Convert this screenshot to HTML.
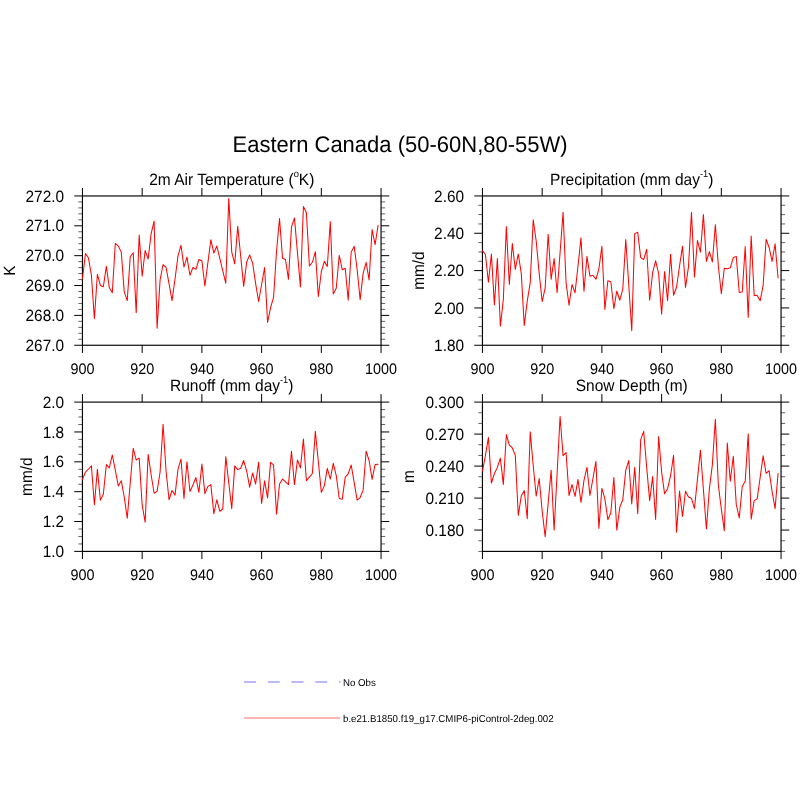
<!DOCTYPE html><html><head><meta charset="utf-8"><title>Eastern Canada</title>
<style>html,body{margin:0;padding:0;background:#fff}svg{display:block}text{font-family:"Liberation Sans",Arial,Helvetica,sans-serif;fill:#000;text-rendering:geometricPrecision}</style></head><body>
<svg width="800" height="800" viewBox="0 0 800 800">
<rect width="800" height="800" fill="#fff"/>
<text transform="translate(400.10,151.75) scale(1,1.03)" font-size="22" text-anchor="middle">Eastern Canada (50-60N,80-55W)</text>
<g stroke="#000" fill="none">
<rect x="82.45" y="195.95" width="298.6" height="149.30" stroke-width="1.15"/>
<path d="M82.45 195.95v-8.0M82.45 345.25v7.7M142.17 195.95v-8.0M142.17 345.25v7.7M201.89 195.95v-8.0M201.89 345.25v7.7M261.61 195.95v-8.0M261.61 345.25v7.7M321.33 195.95v-8.0M321.33 345.25v7.7M381.05 195.95v-8.0M381.05 345.25v7.7M82.45 345.25h-8.2M381.05 345.25h8.2M82.45 315.39h-8.2M381.05 315.39h8.2M82.45 285.53h-8.2M381.05 285.53h8.2M82.45 255.67h-8.2M381.05 255.67h8.2M82.45 225.81h-8.2M381.05 225.81h8.2M82.45 195.95h-8.2M381.05 195.95h8.2" stroke-width="1"/>
<path d="M82.45 339.28h-4.1M381.05 339.28h4.1M82.45 333.31h-4.1M381.05 333.31h4.1M82.45 327.33h-4.1M381.05 327.33h4.1M82.45 321.36h-4.1M381.05 321.36h4.1M82.45 309.42h-4.1M381.05 309.42h4.1M82.45 303.45h-4.1M381.05 303.45h4.1M82.45 297.47h-4.1M381.05 297.47h4.1M82.45 291.50h-4.1M381.05 291.50h4.1M82.45 279.56h-4.1M381.05 279.56h4.1M82.45 273.59h-4.1M381.05 273.59h4.1M82.45 267.61h-4.1M381.05 267.61h4.1M82.45 261.64h-4.1M381.05 261.64h4.1M82.45 249.70h-4.1M381.05 249.70h4.1M82.45 243.73h-4.1M381.05 243.73h4.1M82.45 237.75h-4.1M381.05 237.75h4.1M82.45 231.78h-4.1M381.05 231.78h4.1M82.45 219.84h-4.1M381.05 219.84h4.1M82.45 213.87h-4.1M381.05 213.87h4.1M82.45 207.89h-4.1M381.05 207.89h4.1M82.45 201.92h-4.1M381.05 201.92h4.1" stroke-width="0.62"/>
</g>
<text transform="translate(64.05,350.85) scale(1,1.06)" font-size="15.4" text-anchor="end">267.0</text>
<text transform="translate(64.05,320.99) scale(1,1.06)" font-size="15.4" text-anchor="end">268.0</text>
<text transform="translate(64.05,291.13) scale(1,1.06)" font-size="15.4" text-anchor="end">269.0</text>
<text transform="translate(64.05,261.27) scale(1,1.06)" font-size="15.4" text-anchor="end">270.0</text>
<text transform="translate(64.05,231.41) scale(1,1.06)" font-size="15.4" text-anchor="end">271.0</text>
<text transform="translate(64.05,201.55) scale(1,1.06)" font-size="15.4" text-anchor="end">272.0</text>
<text transform="translate(82.45,374.25) scale(1,1.06)" font-size="14.4" text-anchor="middle">900</text>
<text transform="translate(142.17,374.25) scale(1,1.06)" font-size="14.4" text-anchor="middle">920</text>
<text transform="translate(201.89,374.25) scale(1,1.06)" font-size="14.4" text-anchor="middle">940</text>
<text transform="translate(261.61,374.25) scale(1,1.06)" font-size="14.4" text-anchor="middle">960</text>
<text transform="translate(321.33,374.25) scale(1,1.06)" font-size="14.4" text-anchor="middle">980</text>
<text transform="translate(381.05,374.25) scale(1,1.06)" font-size="14.4" text-anchor="middle">1000</text>
<text transform="translate(231.75,185.20) scale(1,1.06)" font-size="15.5" text-anchor="middle">2m Air Temperature (<tspan dy="-7.8" font-size="9.3">o</tspan><tspan dy="7.8">K)</tspan></text>
<polyline points="82.45,278.95 85.44,253.61 88.42,257.68 91.41,275.25 94.39,318.73 97.38,274.32 100.37,285.43 103.35,286.72 106.34,266.37 109.32,287.83 112.31,292.82 115.30,243.43 118.28,246.02 121.27,252.12 124.25,291.90 127.24,300.60 130.23,256.75 133.21,252.68 136.20,312.62 139.18,234.92 142.17,276.18 145.16,250.46 148.14,258.97 151.13,233.62 154.11,221.23 157.10,328.35 160.09,279.88 163.07,264.52 166.06,267.48 169.04,283.57 172.03,300.60 175.02,278.95 178.00,255.82 180.99,245.28 183.97,266.93 186.96,257.12 189.95,275.25 192.93,267.48 195.92,269.33 198.90,259.52 201.89,260.82 204.88,285.98 207.86,262.86 210.85,239.73 213.83,253.05 216.82,246.02 219.81,258.42 222.79,270.81 225.78,283.20 228.76,198.47 231.75,252.12 234.74,263.78 237.72,226.22 240.71,256.38 243.69,286.35 246.68,261.93 249.67,254.90 252.65,263.23 255.64,283.57 258.62,301.52 261.61,284.50 264.60,267.48 267.58,322.43 270.57,307.62 273.55,297.45 276.54,251.20 279.53,218.46 282.51,258.23 285.50,259.52 288.48,279.32 291.47,227.15 294.46,217.90 297.44,252.50 300.43,286.90 303.41,206.43 306.40,212.72 309.39,266.00 312.37,262.30 315.36,251.75 318.34,296.52 321.33,271.55 324.32,261.38 327.30,266.37 330.29,221.60 333.27,294.12 336.26,288.20 339.25,255.27 342.23,269.70 345.22,268.22 348.20,300.23 351.19,252.12 354.18,246.20 357.16,269.70 360.15,299.67 363.13,273.40 366.12,262.30 369.11,279.88 372.09,229.56 375.08,244.72 378.06,225.30" fill="none" stroke="#ff0000" stroke-width="1.02" stroke-linejoin="round" stroke-linecap="round"/>
<g stroke="#000" fill="none">
<rect x="482.45" y="195.95" width="298.6" height="149.30" stroke-width="1.15"/>
<path d="M482.45 195.95v-8.0M482.45 345.25v7.7M542.17 195.95v-8.0M542.17 345.25v7.7M601.89 195.95v-8.0M601.89 345.25v7.7M661.61 195.95v-8.0M661.61 345.25v7.7M721.33 195.95v-8.0M721.33 345.25v7.7M781.05 195.95v-8.0M781.05 345.25v7.7M482.45 345.25h-8.2M781.05 345.25h8.2M482.45 307.93h-8.2M781.05 307.93h8.2M482.45 270.60h-8.2M781.05 270.60h8.2M482.45 233.27h-8.2M781.05 233.27h8.2M482.45 195.95h-8.2M781.05 195.95h8.2" stroke-width="1"/>
<path d="M482.45 335.92h-4.1M781.05 335.92h4.1M482.45 326.59h-4.1M781.05 326.59h4.1M482.45 317.26h-4.1M781.05 317.26h4.1M482.45 298.59h-4.1M781.05 298.59h4.1M482.45 289.26h-4.1M781.05 289.26h4.1M482.45 279.93h-4.1M781.05 279.93h4.1M482.45 261.27h-4.1M781.05 261.27h4.1M482.45 251.94h-4.1M781.05 251.94h4.1M482.45 242.61h-4.1M781.05 242.61h4.1M482.45 223.94h-4.1M781.05 223.94h4.1M482.45 214.61h-4.1M781.05 214.61h4.1M482.45 205.28h-4.1M781.05 205.28h4.1" stroke-width="0.62"/>
</g>
<text transform="translate(464.05,350.85) scale(1,1.06)" font-size="15.4" text-anchor="end">1.80</text>
<text transform="translate(464.05,313.53) scale(1,1.06)" font-size="15.4" text-anchor="end">2.00</text>
<text transform="translate(464.05,276.20) scale(1,1.06)" font-size="15.4" text-anchor="end">2.20</text>
<text transform="translate(464.05,238.87) scale(1,1.06)" font-size="15.4" text-anchor="end">2.40</text>
<text transform="translate(464.05,201.55) scale(1,1.06)" font-size="15.4" text-anchor="end">2.60</text>
<text transform="translate(482.45,374.25) scale(1,1.06)" font-size="14.4" text-anchor="middle">900</text>
<text transform="translate(542.17,374.25) scale(1,1.06)" font-size="14.4" text-anchor="middle">920</text>
<text transform="translate(601.89,374.25) scale(1,1.06)" font-size="14.4" text-anchor="middle">940</text>
<text transform="translate(661.61,374.25) scale(1,1.06)" font-size="14.4" text-anchor="middle">960</text>
<text transform="translate(721.33,374.25) scale(1,1.06)" font-size="14.4" text-anchor="middle">980</text>
<text transform="translate(781.05,374.25) scale(1,1.06)" font-size="14.4" text-anchor="middle">1000</text>
<text transform="translate(631.75,185.20) scale(1,1.06)" font-size="15.5" text-anchor="middle">Precipitation (mm day<tspan dy="-7.8" font-size="9.3">-1</tspan><tspan dy="7.8">)</tspan></text>
<polyline points="482.45,250.83 485.44,254.53 488.42,282.28 491.41,253.97 494.39,304.85 497.38,258.60 500.37,326.12 503.35,299.30 506.34,226.59 509.32,284.50 512.31,243.43 515.30,269.33 518.28,253.97 521.27,273.40 524.25,325.57 527.24,301.15 530.23,282.65 533.21,219.75 536.20,241.03 539.18,273.40 542.17,301.52 545.16,288.20 548.14,234.18 551.13,279.32 554.11,258.60 557.10,292.82 560.09,252.50 563.07,212.35 566.06,282.65 569.04,305.22 572.03,284.50 575.02,292.82 578.00,266.00 580.99,237.88 583.97,291.35 586.96,256.38 589.95,276.18 592.93,275.25 595.92,279.32 598.90,268.77 601.89,246.20 604.88,309.48 607.86,280.80 610.85,281.73 613.83,308.55 616.82,290.98 619.81,300.23 622.79,289.12 625.78,239.55 628.76,285.06 631.75,330.75 634.74,233.62 637.72,232.33 640.71,257.68 643.69,259.52 646.68,249.35 649.67,300.23 652.65,272.48 655.64,260.82 658.62,273.40 661.61,314.10 664.60,271.55 667.58,300.78 670.57,254.34 673.55,295.23 676.54,287.27 679.53,266.00 682.51,246.20 685.50,287.46 688.48,266.93 691.47,212.35 694.46,277.10 697.44,240.47 700.43,252.12 703.41,214.57 706.40,261.38 709.39,251.57 712.37,261.93 715.36,224.75 718.34,266.00 721.33,293.75 724.32,268.22 727.30,268.77 730.29,267.85 733.27,257.68 736.26,256.38 739.25,292.45 742.23,291.90 745.22,246.57 748.20,317.43 751.19,236.03 754.18,295.60 757.16,295.60 760.15,300.78 763.13,285.43 766.12,239.36 769.11,247.50 772.09,261.38 775.08,243.80 778.06,278.02" fill="none" stroke="#ff0000" stroke-width="1.02" stroke-linejoin="round" stroke-linecap="round"/>
<g stroke="#000" fill="none">
<rect x="82.45" y="402.10" width="298.6" height="149.30" stroke-width="1.15"/>
<path d="M82.45 402.10v-8.0M82.45 551.40v7.7M142.17 402.10v-8.0M142.17 551.40v7.7M201.89 402.10v-8.0M201.89 551.40v7.7M261.61 402.10v-8.0M261.61 551.40v7.7M321.33 402.10v-8.0M321.33 551.40v7.7M381.05 402.10v-8.0M381.05 551.40v7.7M82.45 551.40h-8.2M381.05 551.40h8.2M82.45 521.54h-8.2M381.05 521.54h8.2M82.45 491.68h-8.2M381.05 491.68h8.2M82.45 461.82h-8.2M381.05 461.82h8.2M82.45 431.96h-8.2M381.05 431.96h8.2M82.45 402.10h-8.2M381.05 402.10h8.2" stroke-width="1"/>
<path d="M82.45 543.94h-4.1M381.05 543.94h4.1M82.45 536.47h-4.1M381.05 536.47h4.1M82.45 529.01h-4.1M381.05 529.01h4.1M82.45 514.08h-4.1M381.05 514.08h4.1M82.45 506.61h-4.1M381.05 506.61h4.1M82.45 499.15h-4.1M381.05 499.15h4.1M82.45 484.22h-4.1M381.05 484.22h4.1M82.45 476.75h-4.1M381.05 476.75h4.1M82.45 469.29h-4.1M381.05 469.29h4.1M82.45 454.36h-4.1M381.05 454.36h4.1M82.45 446.89h-4.1M381.05 446.89h4.1M82.45 439.43h-4.1M381.05 439.43h4.1M82.45 424.50h-4.1M381.05 424.50h4.1M82.45 417.03h-4.1M381.05 417.03h4.1M82.45 409.57h-4.1M381.05 409.57h4.1" stroke-width="0.62"/>
</g>
<text transform="translate(64.05,557.00) scale(1,1.06)" font-size="15.4" text-anchor="end">1.0</text>
<text transform="translate(64.05,527.14) scale(1,1.06)" font-size="15.4" text-anchor="end">1.2</text>
<text transform="translate(64.05,497.28) scale(1,1.06)" font-size="15.4" text-anchor="end">1.4</text>
<text transform="translate(64.05,467.42) scale(1,1.06)" font-size="15.4" text-anchor="end">1.6</text>
<text transform="translate(64.05,437.56) scale(1,1.06)" font-size="15.4" text-anchor="end">1.8</text>
<text transform="translate(64.05,407.70) scale(1,1.06)" font-size="15.4" text-anchor="end">2.0</text>
<text transform="translate(82.45,580.40) scale(1,1.06)" font-size="14.4" text-anchor="middle">900</text>
<text transform="translate(142.17,580.40) scale(1,1.06)" font-size="14.4" text-anchor="middle">920</text>
<text transform="translate(201.89,580.40) scale(1,1.06)" font-size="14.4" text-anchor="middle">940</text>
<text transform="translate(261.61,580.40) scale(1,1.06)" font-size="14.4" text-anchor="middle">960</text>
<text transform="translate(321.33,580.40) scale(1,1.06)" font-size="14.4" text-anchor="middle">980</text>
<text transform="translate(381.05,580.40) scale(1,1.06)" font-size="14.4" text-anchor="middle">1000</text>
<text transform="translate(231.75,391.35) scale(1,1.06)" font-size="15.5" text-anchor="middle">Runoff (mm day<tspan dy="-7.8" font-size="9.3">-1</tspan><tspan dy="7.8">)</tspan></text>
<polyline points="82.45,479.40 85.44,472.00 88.42,469.23 91.41,465.89 94.39,504.75 97.38,469.23 100.37,500.12 103.35,494.20 106.34,464.60 109.32,467.93 112.31,454.98 115.30,470.15 118.28,485.88 121.27,480.69 124.25,496.98 127.24,518.25 130.23,483.10 133.21,448.32 136.20,459.98 139.18,458.12 142.17,504.93 145.16,522.32 148.14,454.43 151.13,474.77 154.11,493.27 157.10,491.43 160.09,472.00 163.07,424.27 166.06,471.07 169.04,499.75 172.03,490.50 175.02,495.12 178.00,469.23 180.99,459.05 183.97,498.45 186.96,461.82 189.95,491.43 192.93,484.95 195.92,477.55 198.90,492.35 201.89,464.05 204.88,493.64 207.86,486.43 210.85,484.58 213.83,513.62 216.82,499.75 219.81,511.22 222.79,509.00 225.78,456.64 228.76,482.73 231.75,508.63 234.74,465.89 237.72,469.60 240.71,468.30 243.69,460.53 246.68,471.07 249.67,487.17 252.65,472.93 255.64,484.02 258.62,462.19 261.61,503.45 264.60,480.88 267.58,497.90 270.57,462.38 273.55,464.97 276.54,514.18 279.53,484.02 282.51,479.03 285.50,481.81 288.48,484.58 291.47,451.28 294.46,484.58 297.44,459.98 300.43,467.93 303.41,439.07 306.40,480.69 309.39,477.18 312.37,473.48 315.36,431.30 318.34,461.82 321.33,492.35 324.32,485.88 327.30,468.30 330.29,479.03 333.27,463.31 336.26,475.70 339.25,498.45 342.23,499.38 345.22,477.18 348.20,473.85 351.19,464.97 354.18,482.55 357.16,500.12 360.15,497.53 363.13,490.13 366.12,451.28 369.11,460.53 372.09,479.40 375.08,464.60 378.06,464.23" fill="none" stroke="#ff0000" stroke-width="1.02" stroke-linejoin="round" stroke-linecap="round"/>
<g stroke="#000" fill="none">
<rect x="482.45" y="402.10" width="298.6" height="149.30" stroke-width="1.15"/>
<path d="M482.45 402.10v-8.0M482.45 551.40v7.7M542.17 402.10v-8.0M542.17 551.40v7.7M601.89 402.10v-8.0M601.89 551.40v7.7M661.61 402.10v-8.0M661.61 551.40v7.7M721.33 402.10v-8.0M721.33 551.40v7.7M781.05 402.10v-8.0M781.05 551.40v7.7M482.45 530.07h-8.2M781.05 530.07h8.2M482.45 498.08h-8.2M781.05 498.08h8.2M482.45 466.09h-8.2M781.05 466.09h8.2M482.45 434.09h-8.2M781.05 434.09h8.2M482.45 402.10h-8.2M781.05 402.10h8.2" stroke-width="1"/>
<path d="M482.45 551.40h-4.1M781.05 551.40h4.1M482.45 540.74h-4.1M781.05 540.74h4.1M482.45 519.41h-4.1M781.05 519.41h4.1M482.45 508.74h-4.1M781.05 508.74h4.1M482.45 487.41h-4.1M781.05 487.41h4.1M482.45 476.75h-4.1M781.05 476.75h4.1M482.45 455.42h-4.1M781.05 455.42h4.1M482.45 444.76h-4.1M781.05 444.76h4.1M482.45 423.43h-4.1M781.05 423.43h4.1M482.45 412.76h-4.1M781.05 412.76h4.1" stroke-width="0.62"/>
</g>
<text transform="translate(464.05,535.67) scale(1,1.06)" font-size="15.4" text-anchor="end">0.180</text>
<text transform="translate(464.05,503.68) scale(1,1.06)" font-size="15.4" text-anchor="end">0.210</text>
<text transform="translate(464.05,471.69) scale(1,1.06)" font-size="15.4" text-anchor="end">0.240</text>
<text transform="translate(464.05,439.69) scale(1,1.06)" font-size="15.4" text-anchor="end">0.270</text>
<text transform="translate(464.05,407.70) scale(1,1.06)" font-size="15.4" text-anchor="end">0.300</text>
<text transform="translate(482.45,580.40) scale(1,1.06)" font-size="14.4" text-anchor="middle">900</text>
<text transform="translate(542.17,580.40) scale(1,1.06)" font-size="14.4" text-anchor="middle">920</text>
<text transform="translate(601.89,580.40) scale(1,1.06)" font-size="14.4" text-anchor="middle">940</text>
<text transform="translate(661.61,580.40) scale(1,1.06)" font-size="14.4" text-anchor="middle">960</text>
<text transform="translate(721.33,580.40) scale(1,1.06)" font-size="14.4" text-anchor="middle">980</text>
<text transform="translate(781.05,580.40) scale(1,1.06)" font-size="14.4" text-anchor="middle">1000</text>
<text transform="translate(631.75,391.35) scale(1,1.06)" font-size="15.5" text-anchor="middle">Snow Depth (m)</text>
<polyline points="482.45,471.07 485.44,455.35 488.42,437.40 491.41,483.10 494.39,473.48 497.38,467.38 500.37,458.12 503.35,484.58 506.34,434.63 509.32,445.18 512.31,447.95 515.30,455.35 518.28,515.48 521.27,496.05 524.25,490.50 527.24,518.62 530.23,431.86 533.21,465.52 536.20,496.05 539.18,478.48 542.17,510.85 545.16,536.75 548.14,503.45 551.13,470.15 554.11,530.27 557.10,473.48 560.09,416.50 563.07,455.72 566.06,452.57 569.04,495.50 572.03,484.58 575.02,496.42 578.00,479.40 580.99,502.52 583.97,480.32 586.96,467.38 589.95,495.50 592.93,478.48 595.92,461.45 598.90,528.42 601.89,488.28 604.88,498.82 607.86,519.73 610.85,512.70 613.83,477.55 616.82,530.27 619.81,507.15 622.79,499.75 625.78,470.15 628.76,460.53 631.75,504.00 634.74,467.38 637.72,513.62 640.71,439.62 643.69,431.30 646.68,467.38 649.67,500.68 652.65,476.62 655.64,519.54 658.62,436.48 661.61,472.00 664.60,493.83 667.58,488.65 670.57,475.70 673.55,455.35 676.54,532.12 679.53,491.06 682.51,516.40 685.50,491.24 688.48,496.98 691.47,498.27 694.46,508.44 697.44,479.40 700.43,450.17 703.41,489.57 706.40,528.98 709.39,488.65 712.37,464.60 715.36,419.27 718.34,484.95 721.33,509.00 724.32,530.83 727.30,442.95 730.29,481.25 733.27,456.27 736.26,504.38 739.25,517.88 742.23,486.43 745.22,481.25 748.20,433.70 751.19,519.17 754.18,500.68 757.16,498.82 760.15,477.55 763.13,455.72 766.12,473.30 769.11,470.70 772.09,491.43 775.08,508.63 778.06,473.48" fill="none" stroke="#ff0000" stroke-width="1.02" stroke-linejoin="round" stroke-linecap="round"/>
<text transform="translate(15.20,270.60) rotate(-90) scale(1,1.06)" font-size="15.4" text-anchor="middle">K</text>
<text transform="translate(424.00,270.60) rotate(-90) scale(1,1.06)" font-size="15.4" text-anchor="middle">mm/d</text>
<text transform="translate(32.20,476.70) rotate(-90) scale(1,1.06)" font-size="15.4" text-anchor="middle">mm/d</text>
<text transform="translate(414.00,476.70) rotate(-90) scale(1,1.06)" font-size="15.4" text-anchor="middle">m</text>
<path d="M244 682H340.5" stroke="#a3a3ff" stroke-width="1.5" stroke-dasharray="12 11.75" fill="none"/>
<path d="M244 718H340" stroke="#ff9a9a" stroke-width="1.5" fill="none"/>
<text transform="translate(343.00,685.50) scale(1,1.03)" font-size="9.7" text-anchor="start">No Obs</text>
<text transform="translate(343.00,721.50) scale(1,1.03)" font-size="9.7" text-anchor="start">b.e21.B1850.f19_g17.CMIP6-piControl-2deg.002</text>
</svg></body></html>
